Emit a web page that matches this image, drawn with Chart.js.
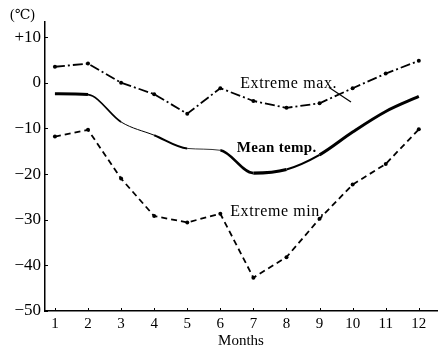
<!DOCTYPE html>
<html>
<head>
<meta charset="utf-8">
<script src="https://cdn.jsdelivr.net/npm/chart.js@4"></script>
<style>
  html, body { margin: 0; padding: 0; background: #fff; }
  #wrap { width: 441px; height: 351px; }
</style>
</head>
<body>
<div id="wrap"><canvas id="myChart" width="441" height="351"></canvas></div>
<script>
// Monthly temperatures (°C)
var months = [1, 2, 3, 4, 5, 6, 7, 8, 9, 10, 11, 12];
var extremeMax = [3.5, 4.2, 0, -2.5, -6.8, -1.2, -4, -5.5, -4.5, -1.2, 2, 4.8];
var meanTemp = [-2.4, -2.6, -8.6, -11.5, -14.4, -14.8, -19.8, -19, -15.8, -10.8, -6.3, -3];
var extremeMin = [-11.8, -10.3, -21, -29.2, -30.6, -28.7, -42.7, -38.2, -29.8, -22.3, -17.8, -10.2];
var yTicks = [10, 0, -10, -20, -30, -40, -50];

var serif = "'Liberation Serif', 'DejaVu Serif', serif";

function pts(arr) {
    return arr.map(function(v, i) { return { x: months[i], y: v }; });
}

// mean line is drawn thin in the middle months, thick elsewhere
var meanWidths = [3, 1.6, 1, 2, 0.8, 2.6, 3.2, 2.2, 3, 3, 3];

var chartText = {
    id: 'chartText',
    afterDraw: function(chart) {
        var c = chart.ctx, xs = chart.scales.x, ys = chart.scales.y;
        c.save();
        c.fillStyle = '#000';
        c.strokeStyle = '#000';
        // inward tick marks
        c.lineWidth = 1;
        yTicks.forEach(function(t) {
            var py = Math.round(ys.getPixelForValue(t)) + 0.5;
            c.beginPath(); c.moveTo(xs.left, py); c.lineTo(xs.left + 3, py); c.stroke();
        });
        months.forEach(function(m) {
            var px = Math.round(xs.getPixelForValue(m)) + 0.5;
            c.beginPath(); c.moveTo(px, ys.bottom); c.lineTo(px, ys.bottom - 3); c.stroke();
        });
        // unit
        c.font = '14px ' + serif;
        c.textBaseline = 'middle';
        c.textAlign = 'left';
        c.fillText('(℃)', 10, 15);
        // series labels
        c.font = '16px ' + serif;
        c.letterSpacing = '0.6px';
        c.fillText('Extreme max.', xs.getPixelForValue(6.6), ys.getPixelForValue(-0.3));
        c.fillText('Extreme min.', xs.getPixelForValue(6.3), ys.getPixelForValue(-28.2));
        c.font = 'bold 15px ' + serif;
        c.letterSpacing = '0.3px';
        c.fillText('Mean temp.', xs.getPixelForValue(6.5), ys.getPixelForValue(-14.3));
        // leader from the max label
        c.lineWidth = 1.2;
        c.beginPath();
        c.moveTo(xs.getPixelForValue(9.3), ys.getPixelForValue(-1.1));
        c.lineTo(xs.getPixelForValue(9.95), ys.getPixelForValue(-4.2));
        c.stroke();
        c.restore();
    }
};

var ctx = document.getElementById('myChart').getContext('2d');
var chart = new Chart(ctx, {
    type: 'line',
    data: {
        datasets: [{
            label: 'Extreme max.',
            data: pts(extremeMax),
            borderColor: '#000',
            backgroundColor: '#000',
            borderWidth: 1.8,
            borderDash: [10, 3, 2, 3],
            pointRadius: 2,
            pointBorderWidth: 0,
            tension: 0
        }, {
            label: 'Mean temp.',
            data: pts(meanTemp),
            borderColor: '#000',
            borderWidth: 3,
            pointRadius: 0,
            cubicInterpolationMode: 'monotone',
            segment: {
                borderWidth: function(s) { return meanWidths[s.p0DataIndex]; }
            }
        }, {
            label: 'Extreme min.',
            data: pts(extremeMin),
            borderColor: '#000',
            backgroundColor: '#000',
            borderWidth: 1.8,
            borderDash: [6, 4],
            pointRadius: 2,
            pointBorderWidth: 0,
            tension: 0
        }]
    },
    options: {
        responsive: false,
        animation: false,
        layout: { padding: { top: 22, right: 1, left: 0, bottom: 0 } },
        plugins: { legend: { display: false }, tooltip: { enabled: false } },
        scales: {
            x: {
                type: 'linear',
                min: 0.7,
                max: 12.55,
                afterFit: function(s) { s.height = 40; },
                afterBuildTicks: function(s) { s.ticks = months.map(function(m) { return { value: m }; }); },
                grid: { display: false, drawTicks: false },
                border: { display: true, color: '#000', width: 1.5 },
                ticks: { color: '#000', padding: 4, font: { family: serif, size: 15 } },
                title: { display: true, text: 'Months', color: '#000', padding: { top: 0, bottom: 1 }, font: { family: serif, size: 15 } }
            },
            y: {
                min: -50,
                max: 13.3,
                afterFit: function(s) { s.width = 45; },
                afterBuildTicks: function(s) { s.ticks = yTicks.map(function(t) { return { value: t }; }); },
                grid: { display: false, drawTicks: false },
                border: { display: true, color: '#000', width: 1.5 },
                ticks: {
                    color: '#000',
                    padding: 4,
                    font: { family: serif, size: 17 },
                    callback: function(v) { return v > 0 ? '+' + v : (v < 0 ? '\u2212' + (-v) : '' + v); }
                }
            }
        }
    },
    plugins: [chartText]
});
</script>
</body>
</html>
